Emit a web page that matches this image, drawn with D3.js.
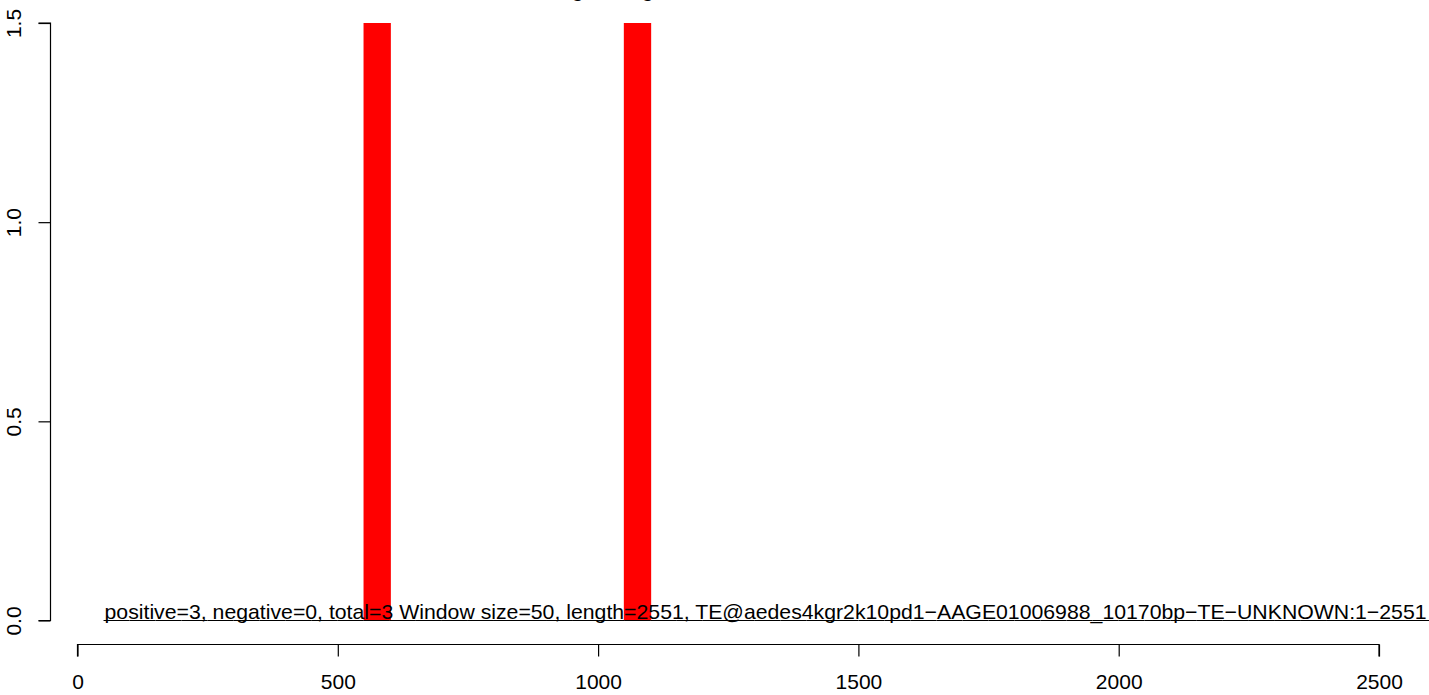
<!DOCTYPE html>
<html>
<head>
<meta charset="utf-8">
<script src="https://cdn.jsdelivr.net/npm/d3@7"></script>
<style>
  html, body { margin: 0; padding: 0; background: #ffffff; }
  svg { display: block; }
  text { font-family: "Liberation Sans", Arial, Helvetica, sans-serif; fill: #000; }
</style>
</head>
<body>
<svg id="chart" width="1429" height="695"></svg>
<script>
// ---- data ----
const windowEnds = [50,100,150,200,250,300,350,400,450,500,550,600,650,700,750,800,850,900,950,1000,
  1050,1100,1150,1200,1250,1300,1350,1400,1450,1500,1550,1600,1650,1700,1750,1800,1850,1900,1950,2000,
  2050,2100,2150,2200,2250,2300,2350,2400,2450,2500,2550,2600];
const positiveValues = [0,0,0,0,0,0,0,0,0,0,0,1.5,0,0,0,0,0,0,0,0,
  0,1.5,0,0,0,0,0,0,0,0,0,0,0,0,0,0,0,0,0,0,
  0,0,0,0,0,0,0,0,0,0,0,0];
const negativeValues = [0,0,0,0,0,0,0,0,0,0,0,0,0,0,0,0,0,0,0,0,
  0,0,0,0,0,0,0,0,0,0,0,0,0,0,0,0,0,0,0,0,
  0,0,0,0,0,0,0,0,0,0,0,0];
const windowSize = 50;
const xTicks = [0, 500, 1000, 1500, 2000, 2500];
const yTicks = [0.0, 0.5, 1.0, 1.5];
const yTickLabels = ["0.0", "0.5", "1.0", "1.5"];
const titleText = "Coverage along the TE of all small RNA reads, sense, antisense";
const infoText = "positive=3, negative=0, total=3 Window size=50, length=2551, TE@aedes4kgr2k10pd1\u2212AAGE01006988_10170bp\u2212TE\u2212UNKNOWN:1\u22122551";

// ---- layout ----
const svg = d3.select("#chart");
svg.append("rect").attr("width", 1429).attr("height", 695).attr("fill", "#fff");

const x = d3.scaleLinear().domain([0, 2500]).range([77.5, 1379]);
const y = d3.scaleLinear().domain([0, 1.5]).range([620.5, 23]);
const yAxisX = 50.5;
const xAxisY = 644.5;
const fs = 21;

// bars
svg.append("g").selectAll("rect")
  .data(windowEnds.map((e, i) => ({ e, v: positiveValues[i] })).filter(d => d.v > 0))
  .join("rect")
  .attr("x", d => x(d.e - windowSize) - 0.3)
  .attr("width", d => x(d.e) - x(d.e - windowSize) + 1.3)
  .attr("y", d => y(d.v))
  .attr("height", d => y(0) - y(d.v))
  .attr("fill", "#ff0000");

// zero / negative line
svg.append("path")
  .datum(windowEnds.map((e, i) => [e, negativeValues[i]]))
  .attr("d", d3.line().x(d => x(d[0])).y(d => y(d[1])))
  .attr("fill", "none").attr("stroke", "#000").attr("stroke-width", 1);

// info text
svg.append("text")
  .attr("x", x(windowEnds[0]) + 1).attr("y", y(0) - 2)
  .attr("font-size", 21)
  .attr("textLength", 1322)
  .attr("lengthAdjust", "spacingAndGlyphs")
  .text(infoText);

// x axis
const xAxis = d3.axisBottom(x).tickValues(xTicks).tickSize(12).tickPadding(18).tickFormat(d3.format("d"));
const gx = svg.append("g").attr("transform", `translate(0,${xAxisY})`).call(xAxis);
gx.select(".domain").attr("d", `M${x(0)},12V0H${x(2500)}V12`).attr("stroke-width", 1.2);
gx.selectAll(".tick line").attr("stroke-width", 1.2);
gx.selectAll(".tick text").attr("font-size", fs).attr("font-family", "Liberation Sans, Arial, sans-serif").attr("fill", "#000");

// y axis
const yAxis = d3.axisLeft(y).tickValues(yTicks).tickSize(12).tickFormat((d, i) => yTickLabels[i]);
const gy = svg.append("g").attr("transform", `translate(${yAxisX},0)`).call(yAxis);
gy.select(".domain").attr("d", `M-12,${y(0)}H0V${y(1.5)}H-12`).attr("stroke-width", 1.2);
gy.selectAll(".tick line").attr("stroke-width", 1.2);
gy.selectAll(".tick text")
  .attr("font-size", fs).attr("font-family", "Liberation Sans, Arial, sans-serif").attr("fill", "#000")
  .attr("text-anchor", "middle").attr("dy", null)
  .attr("transform", d => `translate(${-yAxisX + 21},${0}) rotate(-90)`)
  .attr("x", 0).attr("y", 0);

// title (clipped at top, as in the original figure)
svg.append("text")
  .attr("x", 504).attr("y", -3)
  .attr("font-size", 20).attr("font-weight", "bold")
  .text(titleText);
</script>
</body>
</html>
